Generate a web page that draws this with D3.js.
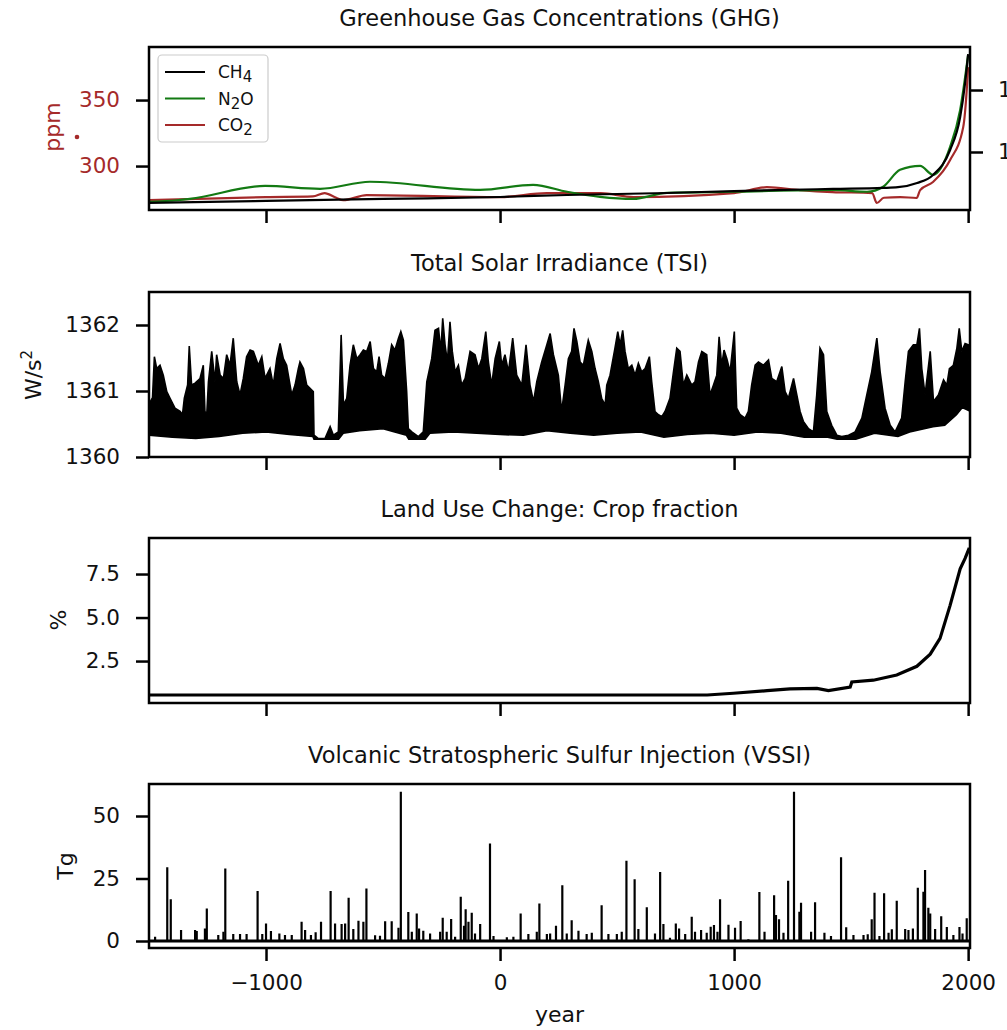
<!DOCTYPE html>
<html>
<head>
<meta charset="utf-8">
<script src="https://cdn.jsdelivr.net/npm/d3@7"></script>
<style>
  body { margin: 0; background: #fff; }
  svg { display: block; font-family: "DejaVu Sans", sans-serif; }
</style>
</head>
<body>
<script>
// year ticks shared by all panels
const yearTicks = [-1000, 0, 1000, 2000];

// GHG: CO2 in ppm (left axis), CH4 in ppb (right axis), N2O in ppb (own hidden axis)
const co2 = [[-1500, 274.2], [-1000, 276.5], [-800, 277.0], [-750, 279.5], [-700, 276.0], [-670, 274.2],
  [-570, 278.0], [0, 276.5], [200, 279.5], [430, 279.5], [570, 276.5], [1000, 279.5], [1140, 284.0],
  [1280, 281.8], [1420, 280.3], [1590, 279.5], [1610, 272.0], [1640, 276.0], [1710, 276.5],
  [1780, 275.8], [1795, 281.8], [1850, 287.9], [1923, 304.5], [1979, 329.5], [1996, 362.9], [2000, 375.0]];
const ch4 = [[-1500, 589], [-1000, 605], [-500, 621], [0, 637], [286, 653], [714, 669], [1000, 685],
  [1423, 702], [1637, 710], [1700, 716], [1782, 750], [1850, 815], [1923, 1016], [1966, 1282],
  [1987, 1556], [2000, 1790]];
const n2o = [[-1500, 260.4], [-1380, 261.0], [-1325, 261.5], [-1004, 266.4], [-769, 265.3], [-556, 268.0],
  [-85, 264.9], [141, 266.8], [286, 264.2], [427, 262.3], [568, 261.5], [714, 263.8], [996, 264.2],
  [1423, 264.9], [1568, 264.2], [1637, 266.1], [1709, 272.5], [1795, 274.0], [1850, 270.6],
  [1923, 281.2], [1966, 295.2], [2000, 316.0]];
const ghgNames = ["CH4", "N2O", "CO2"];

// TSI: upper and lower envelope of the annual series, W/m2
const tsiHi = [[-1500, 1360.80], [-1485, 1360.90], [-1477, 1361.52], [-1467, 1361.34], [-1453, 1361.39],
  [-1439, 1361.24], [-1424, 1360.99], [-1410, 1360.89], [-1389, 1360.74], [-1367, 1360.69], [-1357, 1360.64],
  [-1349, 1360.89], [-1335, 1361.09], [-1328, 1361.68], [-1318, 1361.09], [-1303, 1361.12], [-1282, 1361.19],
  [-1268, 1361.39], [-1261, 1360.69], [-1253, 1360.66], [-1246, 1361.14], [-1232, 1361.60], [-1218, 1361.14],
  [-1211, 1361.55], [-1196, 1361.24], [-1182, 1361.19], [-1168, 1361.55], [-1154, 1361.39], [-1140, 1361.80],
  [-1125, 1361.14], [-1111, 1360.94], [-1097, 1361.19], [-1083, 1361.52], [-1068, 1361.62], [-1054, 1361.60],
  [-1033, 1361.39], [-1018, 1361.52], [-1004, 1361.19], [-983, 1361.34], [-969, 1361.09], [-954, 1361.49],
  [-940, 1361.72], [-926, 1361.49], [-912, 1361.39], [-890, 1360.94], [-876, 1361.09], [-862, 1361.34],
  [-855, 1361.44], [-840, 1361.34], [-826, 1361.09], [-812, 1361.04], [-798, 1360.99], [-795, 1360.33],
  [-776, 1360.28], [-748, 1360.28], [-726, 1360.46], [-712, 1360.33], [-691, 1360.38], [-679, 1361.85],
  [-669, 1360.79], [-655, 1360.89], [-641, 1361.39], [-627, 1361.70], [-612, 1361.49], [-598, 1361.55],
  [-584, 1361.62], [-570, 1361.60], [-555, 1361.75], [-541, 1361.34], [-527, 1361.29], [-517, 1361.52],
  [-506, 1361.24], [-491, 1361.19], [-477, 1361.42], [-463, 1361.70], [-449, 1361.62], [-434, 1361.80],
  [-424, 1361.90], [-413, 1361.77], [-399, 1360.99], [-392, 1360.43], [-377, 1360.38], [-349, 1360.31],
  [-328, 1360.38], [-313, 1361.14], [-292, 1361.49], [-278, 1361.92], [-263, 1361.95], [-253, 1361.60],
  [-245, 1362.10], [-235, 1361.70], [-225, 1361.44], [-214, 1362.05], [-204, 1361.60], [-192, 1361.29],
  [-178, 1361.39], [-164, 1361.09], [-149, 1361.19], [-128, 1361.60], [-107, 1361.55], [-92, 1361.34],
  [-78, 1361.49], [-61, 1361.90], [-50, 1361.44], [-36, 1361.09], [-21, 1361.49], [-3, 1361.75],
  [7, 1361.39], [21, 1361.55], [36, 1361.29], [54, 1361.80], [71, 1361.24], [93, 1361.09], [111, 1361.70],
  [128, 1361.09], [143, 1360.84], [157, 1361.14], [178, 1361.44], [200, 1361.70], [214, 1361.87],
  [228, 1361.55], [249, 1361.24], [263, 1360.69], [278, 1361.09], [292, 1361.49], [306, 1361.60],
  [316, 1361.95], [328, 1361.75], [342, 1361.44], [356, 1361.39], [370, 1361.65], [377, 1361.77],
  [392, 1361.60], [406, 1361.34], [420, 1361.14], [434, 1360.89], [449, 1360.79], [456, 1361.09],
  [470, 1361.24], [491, 1361.65], [503, 1361.90], [513, 1361.70], [524, 1361.92], [534, 1361.60],
  [548, 1361.34], [563, 1361.39], [577, 1361.24], [591, 1361.42], [605, 1361.29], [620, 1361.34],
  [638, 1361.52], [648, 1361.14], [662, 1360.69], [677, 1360.64], [691, 1360.61], [705, 1360.69],
  [726, 1360.89], [741, 1361.29], [755, 1361.65], [769, 1361.60], [783, 1361.09], [798, 1361.24],
  [819, 1361.09], [833, 1361.14], [848, 1361.44], [862, 1361.60], [883, 1361.55], [897, 1360.94],
  [912, 1361.09], [926, 1361.24], [936, 1361.82], [947, 1361.39], [957, 1361.62], [969, 1361.49],
  [983, 1361.29], [1001, 1361.90], [1011, 1360.74], [1026, 1360.64], [1047, 1360.59], [1061, 1360.69],
  [1075, 1361.09], [1090, 1361.39], [1104, 1361.44], [1125, 1361.39], [1147, 1361.47], [1161, 1361.19],
  [1182, 1361.14], [1204, 1361.37], [1218, 1360.99], [1232, 1360.89], [1254, 1361.19], [1268, 1360.94],
  [1282, 1360.69], [1296, 1360.54], [1318, 1360.43], [1339, 1360.38], [1353, 1360.94], [1367, 1361.65],
  [1382, 1361.55], [1396, 1360.69], [1417, 1360.48], [1439, 1360.33], [1460, 1360.31], [1489, 1360.33],
  [1517, 1360.38], [1546, 1360.59], [1567, 1360.94], [1588, 1361.29], [1610, 1361.80], [1624, 1361.29],
  [1645, 1360.74], [1667, 1360.48], [1688, 1360.38], [1716, 1360.59], [1731, 1361.14], [1745, 1361.60],
  [1766, 1361.70], [1781, 1361.70], [1792, 1361.95], [1802, 1361.34], [1816, 1360.94], [1838, 1361.60],
  [1852, 1360.84], [1873, 1360.94], [1895, 1361.17], [1909, 1361.09], [1920, 1361.34], [1937, 1361.39],
  [1952, 1361.65], [1962, 1361.95], [1973, 1361.60], [1987, 1361.72], [2001, 1361.70], [2005, 1361.30]];
const tsiLo = [[-1500, 1360.33], [-1400, 1360.30], [-1300, 1360.28], [-1200, 1360.31], [-1100, 1360.36],
  [-1000, 1360.38], [-900, 1360.34], [-800, 1360.31], [-795, 1360.27], [-690, 1360.27], [-670, 1360.36],
  [-600, 1360.40], [-500, 1360.43], [-400, 1360.33], [-390, 1360.27], [-320, 1360.27], [-300, 1360.36],
  [-200, 1360.38], [-100, 1360.36], [0, 1360.34], [100, 1360.33], [200, 1360.40], [300, 1360.36],
  [400, 1360.33], [500, 1360.36], [600, 1360.38], [700, 1360.30], [800, 1360.34], [900, 1360.36],
  [1000, 1360.33], [1100, 1360.38], [1200, 1360.36], [1300, 1360.30], [1400, 1360.30], [1440, 1360.27],
  [1520, 1360.27], [1600, 1360.36], [1700, 1360.31], [1750, 1360.38], [1850, 1360.46], [1900, 1360.48],
  [1950, 1360.64], [1975, 1360.75], [2005, 1360.70]];

// Land use: crop fraction, %
const cropFrac = [[-1500, 0.55], [885, 0.55], [997, 0.65], [1141, 0.80], [1239, 0.90], [1354, 0.93],
  [1403, 0.80], [1496, 1.00], [1503, 1.30], [1595, 1.40], [1695, 1.70], [1781, 2.20], [1838, 2.90],
  [1880, 3.80], [1923, 5.70], [1966, 7.80], [1987, 8.40], [2005, 9.00]];

// VSSI: eruption year and sulfur injection, Tg
const vssi = [[-1474, 1.7], [-1422, 29.5], [-1407, 16.7], [-1363, 4.4], [-1303, 4.4], [-1296, 4.0],
  [-1261, 5.0], [-1253, 13.0], [-1204, 2.4], [-1182, 3.7], [-1174, 29.0], [-1140, 2.8], [-1111, 2.8],
  [-1083, 2.8], [-1036, 20.0], [-1016, 2.8], [-1000, 7.0], [-979, 4.0], [-943, 3.0], [-919, 2.4],
  [-890, 2.4], [-848, 7.7], [-833, 4.4], [-808, 2.4], [-788, 3.5], [-765, 7.7], [-724, 20.0], [-705, 7.0],
  [-677, 6.8], [-662, 7.0], [-647, 17.3], [-627, 4.8], [-605, 8.1], [-584, 7.7], [-571, 21.0], [-534, 2.3],
  [-513, 2.1], [-491, 7.9], [-463, 7.9], [-434, 5.3], [-424, 59.7], [-392, 11.6], [-377, 3.7], [-356, 11.0],
  [-346, 5.0], [-328, 4.1], [-299, 3.0], [-256, 3.7], [-245, 9.3], [-228, 3.7], [-209, 8.8], [-192, 1.7],
  [-168, 17.7], [-154, 6.1], [-147, 12.7], [-135, 7.7], [-121, 11.3], [-107, 3.0], [-85, 6.8], [-43, 39.0],
  [-28, 2.0], [29, 1.5], [57, 1.7], [88, 11.0], [121, 2.8], [157, 3.7], [168, 15.0], [200, 2.8], [214, 3.0],
  [239, 6.1], [266, 22.3], [285, 3.0], [306, 8.3], [335, 4.1], [370, 2.8], [392, 3.3], [434, 14.3],
  [463, 2.8], [499, 2.8], [520, 3.7], [540, 32.1], [575, 24.7], [591, 4.8], [627, 13.5], [662, 3.0],
  [684, 27.6], [698, 6.8], [726, 1.3], [751, 7.0], [765, 5.0], [791, 2.8], [819, 9.7], [833, 3.7],
  [859, 4.4], [883, 3.3], [900, 5.7], [914, 6.4], [929, 3.7], [940, 16.7], [976, 6.5], [1004, 5.3],
  [1028, 8.0], [1061, 0.7], [1108, 19.6], [1130, 3.7], [1171, 18.3], [1179, 10.4], [1192, 8.7],
  [1211, 3.3], [1231, 24.1], [1256, 59.7], [1279, 11.7], [1286, 15.3], [1329, 3.7], [1346, 15.5],
  [1386, 3.3], [1414, 2.0], [1457, 33.5], [1479, 5.5], [1510, 2.4], [1553, 2.4], [1571, 2.7], [1588, 8.7],
  [1600, 19.3], [1621, 2.0], [1641, 19.1], [1660, 3.3], [1674, 4.7], [1695, 16.1], [1731, 4.8],
  [1745, 4.4], [1764, 5.0], [1785, 21.3], [1809, 19.7], [1816, 28.4], [1830, 13.3], [1838, 11.0],
  [1859, 4.8], [1885, 9.9], [1909, 5.6], [1937, 2.4], [1963, 5.6], [1976, 3.0], [1994, 9.1]];

document.addEventListener("DOMContentLoaded", function() {
    const width = 1007, height = 1030;
    const left = 149, right = 970;
    const brown = "#a52a2a", green = "#137a13";
    const font = "DejaVu Sans, sans-serif";

    const svg = d3.select("body").append("svg")
        .attr("width", width)
        .attr("height", height);

    const x = d3.scaleLinear().domain([-1500, 2008]).range([left, right]);

    function panel(top, bottom, title, yDomain) {
        const g = svg.append("g");
        const y = d3.scaleLinear().domain(yDomain).range([bottom, top]);
        const id = "clip" + top;
        svg.append("clipPath").attr("id", id)
            .append("rect")
            .attr("x", left).attr("y", top)
            .attr("width", right - left).attr("height", bottom - top);
        const plot = g.append("g").attr("clip-path", `url(#${id})`);
        g.append("text")
            .attr("x", (left + right) / 2)
            .attr("y", top - 21)
            .attr("text-anchor", "middle")
            .attr("font-size", 22.5)
            .attr("fill", "#111")
            .text(title);
        return {g, plot, y, top, bottom};
    }

    function styleAxis(a, color) {
        a.attr("font-family", font).attr("font-size", 21.5);
        a.select(".domain").remove();
        a.selectAll(".tick line").attr("stroke", "#000").attr("stroke-width", 2.5);
        a.selectAll(".tick text").attr("fill", color || "#111");
    }

    function finish(p, yTicks, yFormat, yColor, showX) {
        const ya = p.g.append("g").attr("transform", `translate(${left},0)`)
            .call(d3.axisLeft(p.y).tickValues(yTicks).tickFormat(yFormat).tickSize(13).tickPadding(16));
        styleAxis(ya, yColor);
        const xa = p.g.append("g").attr("transform", `translate(0,${p.bottom})`)
            .call(d3.axisBottom(x).tickValues(yearTicks).tickSize(13).tickPadding(14)
                .tickFormat(showX ? d3.format("d") : ""));
        styleAxis(xa);
        p.g.append("rect")
            .attr("x", left).attr("y", p.top)
            .attr("width", right - left).attr("height", p.bottom - p.top)
            .attr("fill", "none").attr("stroke", "#000").attr("stroke-width", 2.5);
    }

    function ylabel(xPos, yPos, color) {
        return svg.append("text")
            .attr("transform", `translate(${xPos},${yPos}) rotate(-90)`)
            .attr("text-anchor", "middle")
            .attr("font-size", 22)
            .attr("fill", color || "#111");
    }

    // --- GHG ---
    const p1 = panel(47, 210, "Greenhouse Gas Concentrations (GHG)", [266.7, 390.2]);
    const yCH4 = d3.scaleLinear().domain([532, 1847]).range([210, 47]);
    const yN2O = d3.scaleLinear().domain([257.3, 319]).range([210, 47]);
    const ghgLine = (ys) => d3.line().curve(d3.curveMonotoneX).x(d => x(d[0])).y(d => ys(d[1]));
    p1.plot.append("path").attr("d", ghgLine(p1.y)(co2))
        .attr("fill", "none").attr("stroke", brown).attr("stroke-width", 2.2);
    p1.plot.append("path").attr("d", ghgLine(yN2O)(n2o))
        .attr("fill", "none").attr("stroke", green).attr("stroke-width", 2.2);
    p1.plot.append("path").attr("d", ghgLine(yCH4)(ch4))
        .attr("fill", "none").attr("stroke", "#000").attr("stroke-width", 2.2);
    finish(p1, [300, 350], d3.format("d"), brown, false);
    // right axis runs past the figure edge, as in the original
    const ra = p1.g.append("g").attr("transform", `translate(${right},0)`)
        .call(d3.axisRight(yCH4).tickValues([1000, 1500]).tickSize(13).tickPadding(15));
    styleAxis(ra);

    // legend
    const lg = p1.g.append("g");
    lg.append("rect").attr("x", 158).attr("y", 55).attr("width", 110).attr("height", 87).attr("rx", 4)
        .attr("fill", "#fff").attr("fill-opacity", 0.85).attr("stroke", "#ccc").attr("stroke-width", 1.2);
    const legColors = ["#000", green, brown];
    ghgNames.forEach((name, i) => {
        const ly = 72 + i * 26.5;
        lg.append("line").attr("x1", 165).attr("x2", 205).attr("y1", ly).attr("y2", ly)
            .attr("stroke", legColors[i]).attr("stroke-width", 2.2);
        const t = lg.append("text").attr("x", 218).attr("y", ly + 6).attr("font-size", 17).attr("fill", "#111");
        const m = name.match(/^([A-Z]+)(\d)(.*)$/);
        t.append("tspan").text(m[1]);
        t.append("tspan").attr("font-size", 15).attr("dy", 4).text(m[2]);
        if (m[3]) t.append("tspan").attr("dy", -4).text(m[3]);
    });
    ylabel(60, 127, brown).text("ppm");
    svg.append("circle").attr("cx", 77).attr("cy", 137).attr("r", 2.3).attr("fill", brown);

    // --- TSI ---
    const p2 = panel(292, 457, "Total Solar Irradiance (TSI)", [1360, 1362.5]);
    const poly = tsiHi.concat(tsiLo.slice().reverse());
    p2.plot.append("path")
        .attr("d", d3.line().x(d => x(d[0])).y(d => p2.y(d[1]))(poly) + "Z")
        .attr("fill", "#000").attr("stroke", "#000").attr("stroke-width", 1.6);
    finish(p2, [1360, 1361, 1362], d3.format("d"), null, false);
    const wl = ylabel(41, 375);
    wl.append("tspan").text("W/s");
    wl.append("tspan").attr("font-size", 15).attr("dy", -9).text("2");

    // --- Land use ---
    const p3 = panel(538, 703, "Land Use Change: Crop fraction", [0.09, 9.57]);
    p3.plot.append("path")
        .attr("d", d3.line().x(d => x(d[0])).y(d => p3.y(d[1]))(cropFrac))
        .attr("fill", "none").attr("stroke", "#000").attr("stroke-width", 3.2);
    finish(p3, [2.5, 5.0, 7.5], d3.format(".1f"), null, false);
    ylabel(66, 620).text("%");

    // --- VSSI ---
    const p4 = panel(784, 948, "Volcanic Stratospheric Sulfur Injection (VSSI)", [-2.8, 62.8]);
    p4.plot.append("line")
        .attr("x1", x(-1500)).attr("x2", x(2005))
        .attr("y1", p4.y(0)).attr("y2", p4.y(0))
        .attr("stroke", "#000").attr("stroke-width", 3);
    p4.plot.selectAll("line.v").data(vssi).join("line")
        .attr("class", "v")
        .attr("x1", d => x(d[0])).attr("x2", d => x(d[0]))
        .attr("y1", p4.y(0)).attr("y2", d => p4.y(d[1]))
        .attr("stroke", "#000").attr("stroke-width", 2.2);
    finish(p4, [0, 25, 50], d3.format("d"), null, true);
    ylabel(73, 866).text("Tg");

    svg.append("text")
        .attr("x", (left + right) / 2).attr("y", 1022)
        .attr("text-anchor", "middle").attr("font-size", 22).attr("fill", "#111")
        .text("year");
});
</script>
</body>
</html>
